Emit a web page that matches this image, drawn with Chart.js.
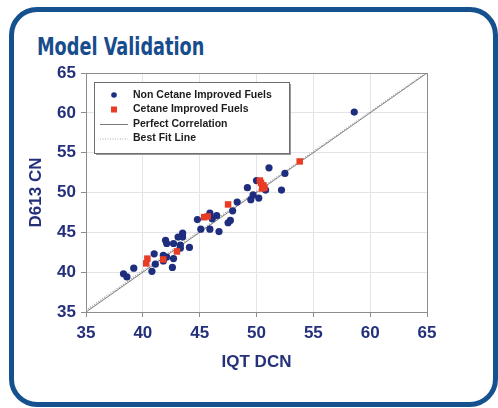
<!DOCTYPE html>
<html lang="en">
<head>
    <meta charset="UTF-8">
    <title>Model Validation</title>
    <script src="https://cdn.jsdelivr.net/npm/chart.js"></script>
    <style>
        html, body { margin: 0; padding: 0; background: #fff; }
        body { width: 498px; height: 408px; position: relative; overflow: hidden; font-family: Arial, "Liberation Sans", sans-serif; }
        .frame { position: absolute; left: 9px; top: 7px; width: 479px; height: 390px; border: 5px solid #16518f; border-radius: 28px; }
        h1 { position: absolute; left: 37px; top: 33px; margin: 0; font: bold 24px "Liberation Sans Narrow", "DejaVu Sans Condensed", Arial, sans-serif; color: #174d8c; transform: scaleX(0.82); transform-origin: left top; white-space: nowrap; }
        canvas { position: absolute; left: 0; top: 0; }
    </style>
</head>
<body>
    <div class="frame"></div>
    <h1>Model Validation</h1>
    <canvas id="chart" width="498" height="408"></canvas>

    <script>
        // IQT DCN (x) vs D613 CN (y)
        const nonCiX = [58.6, 51.1, 52.5, 52.2, 49.2, 50.0, 49.7, 49.5, 50.2, 50.8, 48.3, 47.9, 47.7, 47.5,
                        46.5, 45.9, 46.1, 45.9, 46.7, 45.1, 44.8, 43.5, 43.5, 43.1, 44.1, 43.3, 42.7, 42.0,
                        42.1, 42.7, 42.1, 41.8, 41.8, 42.6, 41.0, 41.1, 40.8, 39.2, 38.3, 38.6, 43.3];
        const nonCiY = [60.1, 53.1, 52.4, 50.3, 50.6, 51.5, 49.7, 49.1, 49.3, 50.3, 48.8, 47.7, 46.5, 46.2,
                        47.1, 47.4, 46.7, 45.4, 45.1, 45.4, 46.6, 44.9, 44.4, 44.4, 43.1, 43.4, 43.6, 44.0,
                        43.6, 41.7, 41.9, 42.1, 41.4, 40.6, 42.3, 41.0, 40.1, 40.5, 39.8, 39.4, 43.0];

        const ciX = [53.8, 47.5, 45.4, 45.7, 43.0, 41.8, 40.4, 40.3, 50.4, 50.6, 50.5, 50.3, 50.7];
        const ciY = [53.9, 48.5, 46.9, 47.0, 42.6, 41.6, 41.7, 41.1, 51.2, 50.9, 50.5, 51.5, 50.6];

        const perfectX = [35, 65];
        const perfectY = [35, 65];
        const fitX = [35, 65];
        const fitY = [35.2, 65.1];

        const axisTicks = [35, 40, 45, 50, 55, 60, 65];

        const toPoints = (xs, ys) => xs.map((x, i) => ({ x: x, y: ys[i] }));

        const navy = '#24307a';

        // legend box drawn inside the plot, top left
        const insideLegend = {
            id: 'insideLegend',
            afterDraw(chart) {
                const ctx = chart.ctx;
                const a = chart.chartArea;
                const bx = a.left + 8, by = a.top + 9, bw = 195, bh = 71;
                ctx.save();
                ctx.fillStyle = '#9a9a9a';
                ctx.fillRect(bx + 2, by + 2, bw, bh);
                ctx.fillStyle = '#fff';
                ctx.fillRect(bx, by, bw, bh);
                ctx.strokeStyle = '#6e6e6e';
                ctx.lineWidth = 1;
                ctx.strokeRect(bx + 0.5, by + 0.5, bw, bh);

                ctx.font = 'bold 10.5px Arial, "Liberation Sans", sans-serif';
                ctx.textBaseline = 'middle';
                chart.data.datasets.forEach((ds, i) => {
                    const y = by + 13 + i * 14.5;
                    const mx = bx + 20;
                    if (ds.showLine) {
                        ctx.strokeStyle = ds.borderColor;
                        ctx.lineWidth = 1;
                        ctx.setLineDash(ds.borderDash || []);
                        ctx.beginPath();
                        ctx.moveTo(mx - 14, y + 0.5);
                        ctx.lineTo(mx + 14, y + 0.5);
                        ctx.stroke();
                        ctx.setLineDash([]);
                    } else {
                        ctx.fillStyle = ds.backgroundColor;
                        if (ds.pointStyle === 'rect') {
                            ctx.fillRect(mx - 3, y - 3, 6, 6);
                        } else {
                            ctx.beginPath();
                            ctx.arc(mx, y, 2.8, 0, Math.PI * 2);
                            ctx.fill();
                        }
                    }
                    ctx.fillStyle = '#1c1c1c';
                    ctx.fillText(ds.label, bx + 39, y);
                });
                ctx.restore();
            }
        };

        // grey frame round the plot area
        const plotFrame = {
            id: 'plotFrame',
            beforeDatasetsDraw(chart) {
                const ctx = chart.ctx;
                const a = chart.chartArea;
                ctx.save();
                ctx.strokeStyle = '#8c8c8c';
                ctx.lineWidth = 1;
                ctx.strokeRect(Math.round(a.left) + 0.5, Math.round(a.top) + 0.5,
                               Math.round(a.right - a.left), Math.round(a.bottom - a.top));
                ctx.restore();
            }
        };

        const tickFont = { family: 'Arial, "Liberation Sans", sans-serif', size: 17, weight: 'bold' };

        new Chart(document.getElementById('chart'), {
            type: 'scatter',
            data: {
                datasets: [
                    {
                        label: 'Non Cetane Improved Fuels',
                        data: toPoints(nonCiX, nonCiY),
                        backgroundColor: '#1e2d7d',
                        borderColor: '#1e2d7d',
                        pointStyle: 'circle',
                        pointRadius: 3.6,
                        borderWidth: 0,
                        order: 2
                    },
                    {
                        label: 'Cetane Improved Fuels',
                        data: toPoints(ciX, ciY),
                        backgroundColor: '#ea3b24',
                        borderColor: '#ea3b24',
                        pointStyle: 'rect',
                        pointRadius: 4.6,
                        borderWidth: 0,
                        order: 1
                    },
                    {
                        label: 'Perfect Correlation',
                        data: toPoints(perfectX, perfectY),
                        showLine: true,
                        borderColor: '#7a7a7a',
                        borderWidth: 1,
                        pointRadius: 0,
                        order: 4
                    },
                    {
                        label: 'Best Fit Line',
                        data: toPoints(fitX, fitY),
                        showLine: true,
                        borderColor: '#a8a8a8',
                        borderDash: [1, 1.5],
                        borderWidth: 1.5,
                        pointRadius: 0,
                        order: 3
                    }
                ]
            },
            options: {
                responsive: false,
                animation: false,
                layout: { padding: { left: 20, top: 73, right: 71, bottom: 31 } },
                plugins: {
                    legend: { display: false },
                    tooltip: { enabled: false }
                },
                scales: {
                    x: {
                        type: 'linear',
                        min: 35,
                        max: 65,
                        afterBuildTicks: (s) => { s.ticks = axisTicks.map(v => ({ value: v })); },
                        afterFit: (s) => { s.height = 65; },
                        border: { display: false },
                        grid: { color: '#e3e3e8', borderDash: [2, 2], tickLength: 5, tickColor: '#8c8c8c', tickBorderDash: [] },
                        ticks: { color: navy, font: tickFont, padding: 6, maxRotation: 0 },
                        title: { display: true, text: 'IQT DCN', color: navy, font: tickFont, padding: { top: 4, bottom: 4 } }
                    },
                    y: {
                        type: 'linear',
                        min: 35,
                        max: 65,
                        afterBuildTicks: (s) => { s.ticks = axisTicks.map(v => ({ value: v })); },
                        afterFit: (s) => { s.width = 66; },
                        border: { display: false },
                        grid: { color: '#e3e3e8', borderDash: [2, 2], tickLength: 5, tickColor: '#8c8c8c', tickBorderDash: [] },
                        ticks: { color: navy, font: tickFont, padding: 5 },
                        title: { display: true, text: 'D613 CN', color: navy, font: tickFont, padding: { top: 6, bottom: 0 } }
                    }
                }
            },
            plugins: [plotFrame, insideLegend]
        });
    </script>
</body>
</html>
